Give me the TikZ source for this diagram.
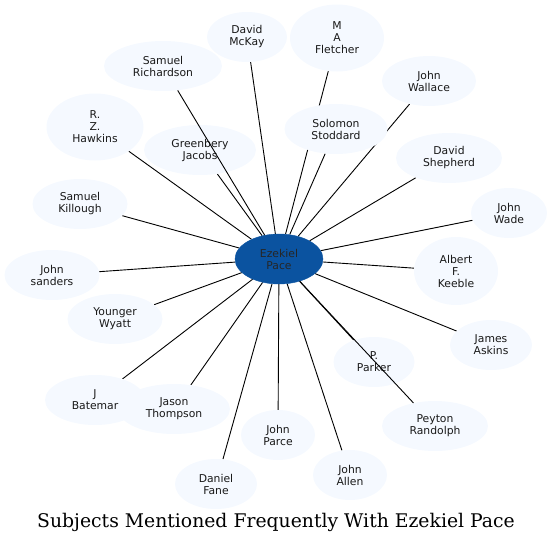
\documentclass[tikz,border=0pt]{standalone}
\usepackage{fontspec}
\setmainfont{DejaVu Serif}
\newfontfamily\nodefont{DejaVu Sans}
\usetikzlibrary{shapes.geometric}
\pgfdeclarelayer{edgelayer}
\pgfsetlayers{edgelayer,main}
\definecolor{nodefill}{HTML}{F5F9FF}
\definecolor{centerfill}{HTML}{0B53A0}
\tikzset{
  person/.style={ellipse, fill=nodefill, inner sep=0pt, align=center,
    font=\nodefont\fontsize{10.8}{12}\selectfont, text=black!90},
  hub/.style={ellipse, fill=centerfill, draw=centerfill, inner sep=0pt, align=center,
    font=\nodefont\fontsize{10.8}{12}\selectfont, text=black!85},
  link/.style={draw=black, line width=0.9pt},
}
\newcommand{\pnode}[6]{\node[person, minimum width=#4pt, minimum height=#5pt] (#1) at (#2,#3) {#6};}
\begin{document}
\begin{tikzpicture}[x=1pt,y=-1pt]
\useasboundingbox (0,0) rectangle (553,544);
\node[hub, minimum width=88pt, minimum height=50pt] (ep) at (279,259) {Ezekiel\\Pace};
\pnode{mckay}{247}{37}{80}{50}{David\\McKay}
\pnode{fletcher}{337}{38}{94}{67}{M\\A\\Fletcher}
\pnode{richardson}{163}{66}{118}{50}{Samuel\\Richardson}
\pnode{wallace}{429}{81}{94}{50}{John\\Wallace}
\pnode{hawkins}{95}{127}{97}{67}{R.\\Z.\\Hawkins}
\pnode{jacobs}{200}{150}{112}{50}{Greenbery\\Jacobs}
\pnode{stoddard}{336}{129}{103}{50}{Solomon\\Stoddard}
\pnode{shepherd}{449}{158}{106}{50}{David\\Shepherd}
\pnode{killough}{80}{204}{95}{50}{Samuel\\Killough}
\pnode{wade}{509}{213}{76}{50}{John\\Wade}
\pnode{sanders}{52}{275}{95}{50}{John\\sanders}
\pnode{keeble}{456}{271}{84}{68}{Albert\\F.\\Keeble}
\pnode{wyatt}{115}{319}{95}{50}{Younger\\Wyatt}
\pnode{askins}{491}{345}{82}{50}{James\\Askins}
\pnode{parker}{374}{362}{81}{50}{P.\\Parker}
\pnode{batemar}{95}{400}{100}{50}{J\\Batemar}
\pnode{thompson}{174}{409}{112}{50}{Jason\\Thompson}
\pnode{parce}{278}{435}{74}{50}{John\\Parce}
\pnode{randolph}{435}{426}{106}{50}{Peyton\\Randolph}
\pnode{allen}{350}{475}{74}{50}{John\\Allen}
\pnode{fane}{216}{484}{82}{50}{Daniel\\Fane}
\begin{pgfonlayer}{edgelayer}
\foreach \n in {mckay,fletcher,wallace,hawkins,jacobs,stoddard,shepherd,killough,wade,sanders,keeble,wyatt,askins,parker,batemar,thompson,parce,allen,fane}
  \draw[link] (ep) -- (\n);
\end{pgfonlayer}
\draw[link] (ep) -- (richardson);
\draw[link] (ep) -- (randolph);
\node[font=\fontsize{18.8}{22}\selectfont] (title) at (276,522) {Subjects Mentioned Frequently With Ezekiel Pace};
\end{tikzpicture}
\end{document}
